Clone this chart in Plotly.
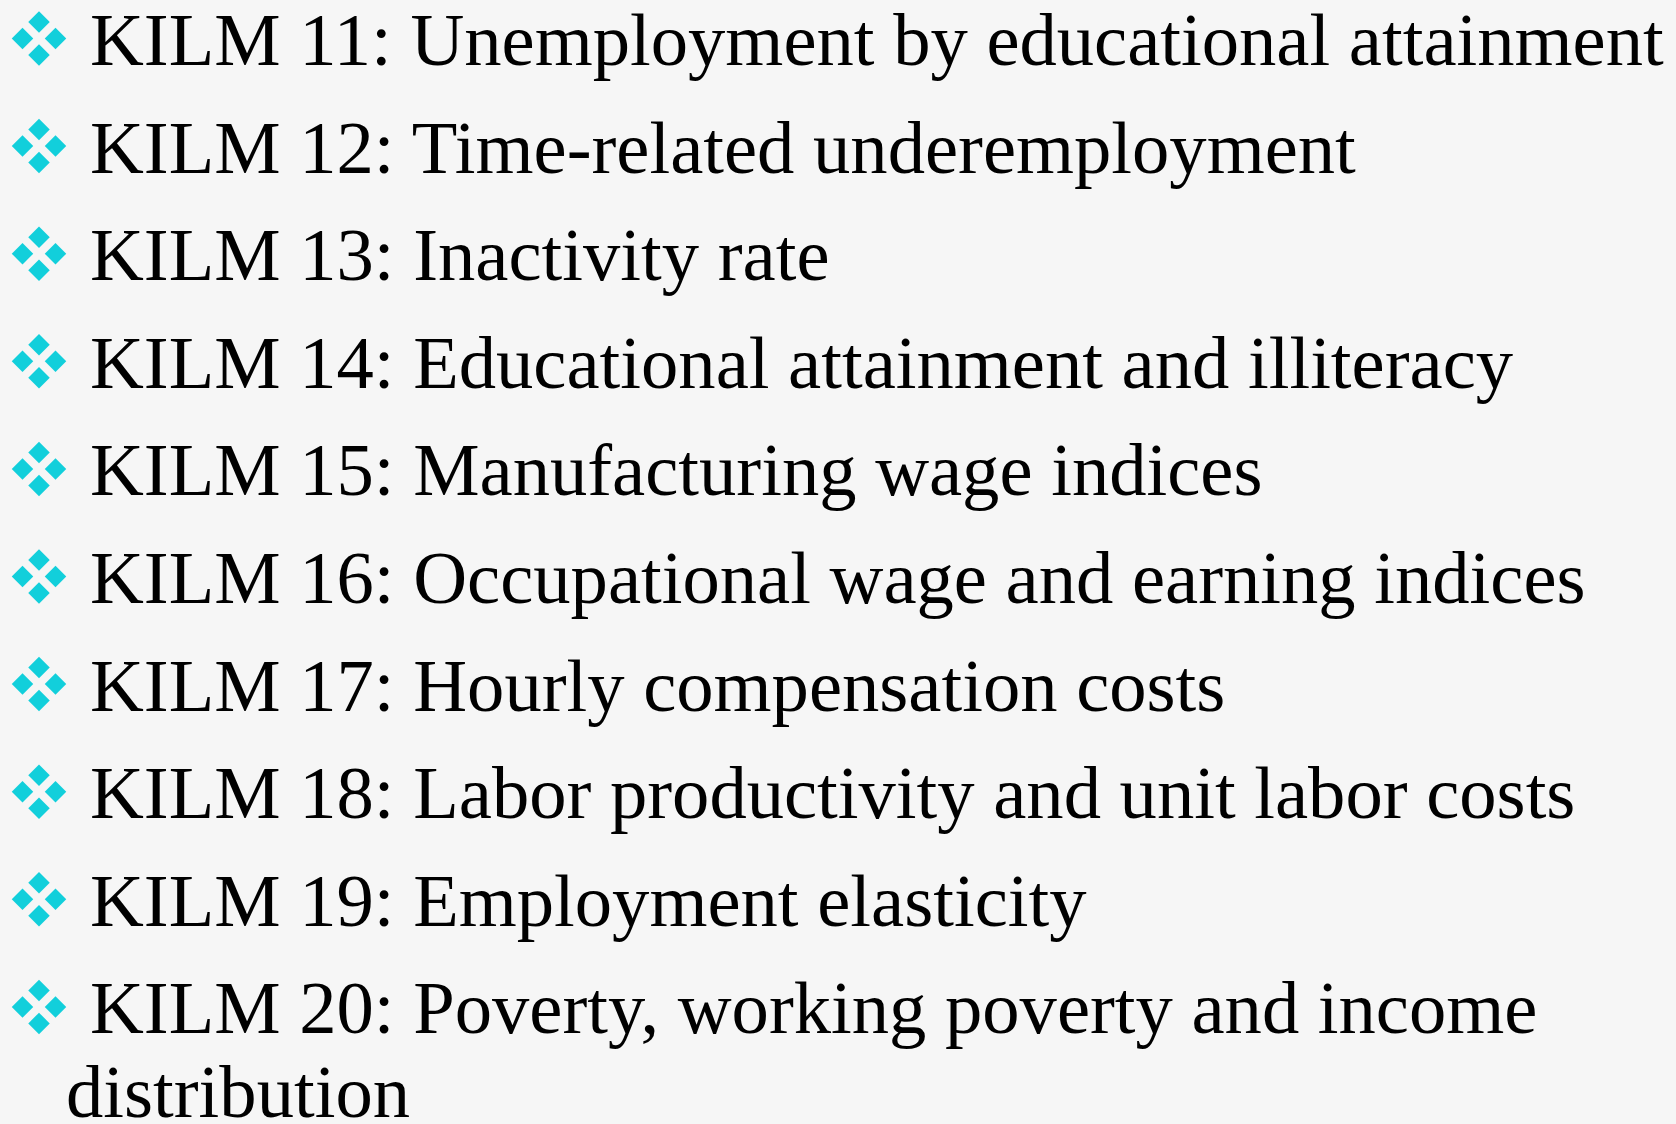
import plotly.graph_objects as go

# ---- content ----
items = [
    "KILM 11: Unemployment by educational attainment",
    "KILM 12: Time-related underemployment",
    "KILM 13: Inactivity rate",
    "KILM 14: Educational attainment and illiteracy",
    "KILM 15: Manufacturing wage indices",
    "KILM 16: Occupational wage and earning indices",
    "KILM 17: Hourly compensation costs",
    "KILM 18: Labor productivity and unit labor costs",
    "KILM 19: Employment elasticity",
    "KILM 20: Poverty, working poverty and income",
]
continuation = "distribution"

# ---- layout constants ----
W, H = 1676, 1124
FS = 74.6
FIRST_BASELINE = 65
STEP = 107.6
CONT_GAP = 84
TEXT_X = 90
CONT_X = 66
BULLET_X = 39
BULLET_DY = -26.5
BULLET_OFF = 16.5
BULLET_SIZE = 16.5
BG = "#f6f6f6"
CYAN = "#12cfdb"
FONT = "Liberation Serif, Times New Roman, serif"

baselines = [FIRST_BASELINE + i * STEP for i in range(len(items))]
center_shift = 0.25 * FS  # plotly 'middle' text: baseline = y + 0.25*fontsize

fig = go.Figure()

# bullet glyphs (four small diamonds per item)
bx, by = [], []
for b in baselines:
    cy = b + BULLET_DY
    for ox, oy in [(0, -BULLET_OFF), (-BULLET_OFF, 0), (BULLET_OFF, 0), (0, BULLET_OFF)]:
        bx.append(BULLET_X + ox)
        by.append(cy + oy)
fig.add_trace(go.Scatter(
    x=bx, y=by, mode="markers",
    marker=dict(symbol="diamond", size=BULLET_SIZE, color=CYAN, line=dict(width=0)),
    hoverinfo="skip", showlegend=False,
))

# item text
fig.add_trace(go.Scatter(
    x=[TEXT_X] * len(items), y=[b - center_shift for b in baselines],
    mode="text", text=items, textposition="middle right",
    textfont=dict(family=FONT, size=FS, color="#000000"),
    hoverinfo="skip", showlegend=False, cliponaxis=False,
))

# wrapped continuation line
fig.add_trace(go.Scatter(
    x=[CONT_X], y=[baselines[-1] + CONT_GAP - center_shift],
    mode="text", text=[continuation], textposition="middle right",
    textfont=dict(family=FONT, size=FS, color="#000000"),
    hoverinfo="skip", showlegend=False, cliponaxis=False,
))

fig.update_layout(
    width=W, height=H,
    margin=dict(l=0, r=0, t=0, b=0),
    paper_bgcolor=BG, plot_bgcolor=BG,
    xaxis=dict(range=[0, W], visible=False, fixedrange=True),
    yaxis=dict(range=[H, 0], visible=False, fixedrange=True),
    showlegend=False,
)

fig.write_html(
    "out.html",
    config={"displayModeBar": False},
    post_script="document.body.style.margin='0';document.body.style.background='%s';" % BG,
)
